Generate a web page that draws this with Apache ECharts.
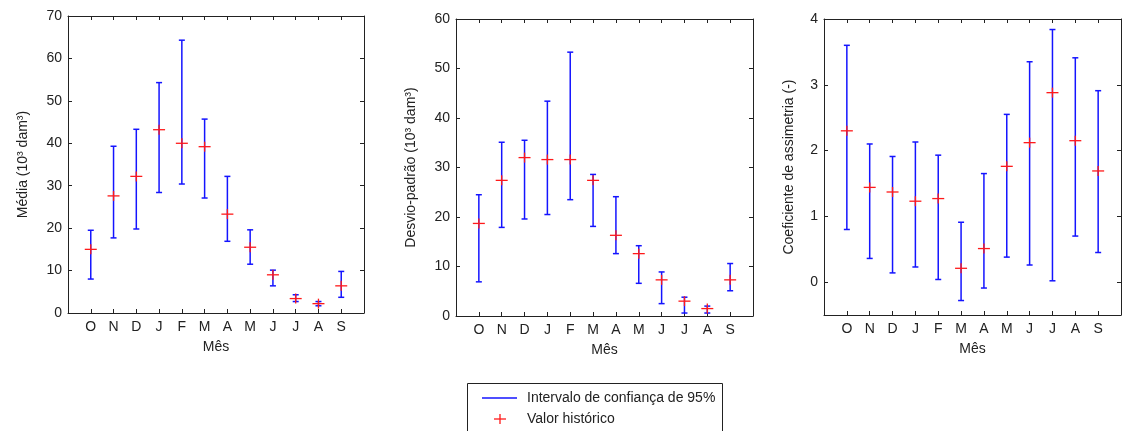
<!DOCTYPE html>
<html>
<head>
<meta charset="utf-8">
<script src="https://cdn.jsdelivr.net/npm/echarts@6/dist/echarts.min.js"></script>
<style>
html,body{margin:0;padding:0;background:#fff;}
#chart{width:1122px;height:431px;}
</style>
</head>
<body>
<div id="chart"></div>
<script>
// ---- data ----
const months = ['O','N','D','J','F','M','A','M','J','J','A','S'];

const mediaVal = [15.0, 27.6, 32.2, 43.2, 40.0, 39.2, 23.3, 15.5, 9.0, 3.4, 2.2, 6.4];
const mediaLo  = [8.0, 17.7, 19.8, 28.4, 30.4, 27.1, 16.9, 11.5, 6.4, 2.7, 1.7, 3.7];
const mediaHi  = [19.5, 39.3, 43.3, 54.3, 64.3, 45.7, 32.2, 19.6, 10.1, 4.3, 2.7, 9.8];

const dpVal = [18.7, 27.4, 32.0, 31.6, 31.6, 27.4, 16.3, 12.6, 7.3, 3.0, 1.5, 7.3];
const dpLo  = [6.9, 17.9, 19.6, 20.5, 23.5, 18.1, 12.6, 6.6, 2.5, 0.6, 0.6, 5.1];
const dpHi  = [24.5, 35.1, 35.5, 43.4, 53.3, 28.6, 24.1, 14.2, 8.9, 3.8, 2.0, 10.6];

const caVal = [2.30, 1.44, 1.37, 1.23, 1.27, 0.21, 0.51, 1.76, 2.12, 2.88, 2.15, 1.69];
const caLo  = [0.80, 0.36, 0.14, 0.23, 0.04, -0.28, -0.09, 0.38, 0.26, 0.02, 0.70, 0.45];
const caHi  = [3.60, 2.10, 1.91, 2.13, 1.93, 0.91, 1.65, 2.55, 3.35, 3.84, 3.41, 2.91];

const yTicks1 = [0,10,20,30,40,50,60,70];
const yTicks2 = [0,10,20,30,40,50,60];
const yTicks3 = [0,1,2,3,4];

const yNames = ['Média (10³ dam³)', 'Desvio-padrão (10³ dam³)', 'Coeficiente de assimetria (-)'];
const xName = 'Mês';
const legendNames = ['Intervalo de confiança de 95%', 'Valor histórico'];

// ---- layout ----
const FONT = '"Liberation Sans", Arial, sans-serif';
const FS = 14;
const TXT = '#222';
const grids = [
  {left: 68, top: 16, width: 296, height: 297},
  {left: 456, top: 19, width: 297, height: 297},
  {left: 824, top: 19, width: 297, height: 296}
];
const yRanges = [[0,70],[0,60],[-0.5,4]];
const yTickSets = [yTicks1, yTicks2, yTicks3];
const nameGaps = [38, 38, 28];
const xIdx = months.map((m,i)=>i+1);

const chart = echarts.init(document.getElementById('chart'), null, {renderer:'canvas'});

const xAxes = [], yAxes = [], series = [];
const axisLine = {show:true, onZero:false, lineStyle:{color:'#222', width:1}};
const tick = (vals) => ({show:true, inside:true, length:4, customValues: vals, lineStyle:{color:'#222'}});

grids.forEach((g, gi) => {
  xAxes.push({
    type:'value', gridIndex: gi, min:0, max:13, position:'bottom',
    name: xName, nameLocation:'middle', nameGap: 27,
    nameTextStyle:{fontFamily:FONT, fontSize:FS, color:TXT},
    axisLine, splitLine:{show:false},
    axisTick: tick(xIdx),
    axisLabel:{show:true, customValues: xIdx, margin:7, fontFamily:FONT, fontSize:FS, color:TXT,
      formatter: v => months[Math.round(v)-1] || ''}
  });
  xAxes.push({
    type:'value', gridIndex: gi, min:0, max:13, position:'top',
    axisLine, splitLine:{show:false},
    axisTick: tick(xIdx),
    axisLabel:{show:false}
  });
  yAxes.push({
    type:'value', gridIndex: gi, min: yRanges[gi][0], max: yRanges[gi][1], position:'left',
    name: yNames[gi], nameLocation:'middle', nameGap: nameGaps[gi], nameRotate: 90,
    nameTextStyle:{fontFamily:FONT, fontSize:FS, color:TXT},
    axisLine, splitLine:{show:false},
    axisTick: tick(yTickSets[gi]),
    axisLabel:{show:true, customValues: yTickSets[gi], margin:6, fontFamily:FONT, fontSize:FS, color:TXT}
  });
  yAxes.push({
    type:'value', gridIndex: gi, min: yRanges[gi][0], max: yRanges[gi][1], position:'right',
    axisLine, splitLine:{show:false},
    axisTick: tick(yTickSets[gi]),
    axisLabel:{show:false}
  });
});

function errRender(params, api){
  const x = api.value(0), lo = api.value(1), hi = api.value(2);
  const pT = api.coord([x, hi]), pB = api.coord([x, lo]);
  const hw = 3;
  const st = {stroke:'#1414ff', lineWidth:1.5};
  return {type:'group', children:[
    {type:'line', shape:{x1:pT[0], y1:pT[1], x2:pB[0], y2:pB[1]}, style:st},
    {type:'line', shape:{x1:pT[0]-hw, y1:pT[1], x2:pT[0]+hw, y2:pT[1]}, style:st},
    {type:'line', shape:{x1:pB[0]-hw, y1:pB[1], x2:pB[0]+hw, y2:pB[1]}, style:st}
  ]};
}
function plusRender(params, api){
  const p = api.coord([api.value(0), api.value(1)]);
  const st = {stroke:'#ff1a1a', lineWidth:1.3};
  return {type:'group', children:[
    {type:'line', shape:{x1:p[0]-6, y1:p[1], x2:p[0]+6, y2:p[1]}, style:st},
    {type:'line', shape:{x1:p[0], y1:p[1]-5, x2:p[0], y2:p[1]+5}, style:st}
  ]};
}

const sets = [[mediaVal, mediaLo, mediaHi],[dpVal, dpLo, dpHi],[caVal, caLo, caHi]];
sets.forEach((s, gi) => {
  series.push({
    type:'custom', name: legendNames[0], xAxisIndex: gi*2, yAxisIndex: gi*2,
    renderItem: errRender, clip:false, silent:true,
    data: xIdx.map((x,i)=>[x, s[1][i], s[2][i]])
  });
  series.push({
    type:'custom', name: legendNames[1], xAxisIndex: gi*2, yAxisIndex: gi*2,
    renderItem: plusRender, clip:false, silent:true, z:3,
    data: xIdx.map((x,i)=>[x, s[0][i]])
  });
});

const graphic = [
  {type:'rect', shape:{x:467.5, y:383.5, width:255, height:60}, style:{fill:'#fff', stroke:'#222', lineWidth:1}},
  {type:'line', shape:{x1:482, y1:398, x2:517, y2:398}, style:{stroke:'#1414ff', lineWidth:1.5}},
  {type:'text', x:527, y:398, style:{text: legendNames[0], font:FS+'px '+FONT, fill:TXT, textVerticalAlign:'middle'}},
  {type:'line', shape:{x1:494, y1:419, x2:506, y2:419}, style:{stroke:'#ff1a1a', lineWidth:1.3}},
  {type:'line', shape:{x1:500, y1:414, x2:500, y2:424}, style:{stroke:'#ff1a1a', lineWidth:1.3}},
  {type:'text', x:527, y:419, style:{text: legendNames[1], font:FS+'px '+FONT, fill:TXT, textVerticalAlign:'middle'}}
];

chart.setOption({
  animation:false,
  backgroundColor:'#fff',
  grid: grids.map(g=>Object.assign({containLabel:false}, g)),
  xAxis: xAxes,
  yAxis: yAxes,
  series,
  graphic
});
</script>
</body>
</html>
